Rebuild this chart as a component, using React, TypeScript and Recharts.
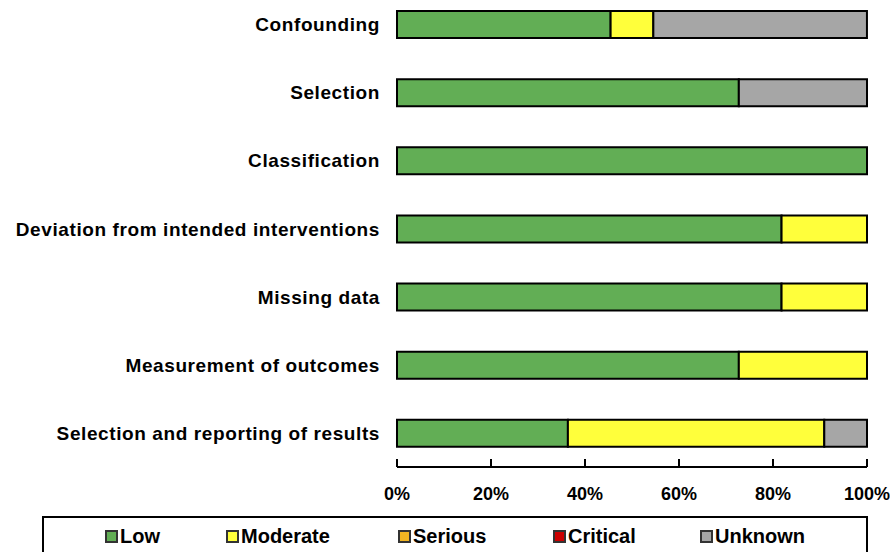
import { BarChart, Bar, XAxis, YAxis, Legend } from "recharts";

const domains = [
  "Confounding",
  "Selection",
  "Classification",
  "Deviation from intended interventions",
  "Missing data",
  "Measurement of outcomes",
  "Selection and reporting of results",
];
const low = [45.45, 72.73, 100, 81.82, 81.82, 72.73, 36.36];
const moderate = [9.09, 0, 0, 18.18, 18.18, 27.27, 54.55];
const serious = [0, 0, 0, 0, 0, 0, 0];
const critical = [0, 0, 0, 0, 0, 0, 0];
const unknown = [45.45, 27.27, 0, 0, 0, 0, 9.09];
const xTicks = [0, 20, 40, 60, 80, 100];

const series = [
  { key: "low", name: "Low", color: "#62ae55" },
  { key: "moderate", name: "Moderate", color: "#ffff3b" },
  { key: "serious", name: "Serious", color: "#f0b422" },
  { key: "critical", name: "Critical", color: "#cc0000" },
  { key: "unknown", name: "Unknown", color: "#a6a6a6" },
];

const data = domains.map((d, i) => ({
  domain: d,
  low: low[i],
  moderate: moderate[i],
  serious: serious[i],
  critical: critical[i],
  unknown: unknown[i],
}));

const font = "'Liberation Sans', Arial, sans-serif";

function XTick({ x, y, payload }: any) {
  return (
    <g>
      <line x1={x} x2={x} y1={y - 8} y2={y} stroke="#000" strokeWidth={2} />
      <text x={x} y={y + 33} textAnchor="middle" fontFamily={font} fontWeight="bold" fontSize={18} fill="#000">
        {payload.value}%
      </text>
    </g>
  );
}

function YTick({ x, y, payload }: any) {
  return (
    <text
      x={x}
      y={y}
      dy={7}
      textAnchor="end"
      fontFamily={font}
      fontWeight="bold"
      fontSize={19}
      letterSpacing={0.6}
      fill="#000"
    >
      {payload.value}
    </text>
  );
}

function LegendBox() {
  return (
    <div
      style={{
        boxSizing: "border-box",
        width: 826,
        height: 44,
        border: "2px solid #000",
        display: "flex",
        paddingLeft: 61,
        paddingTop: 6,
        fontFamily: font,
        fontWeight: "bold",
        fontSize: 20,
        color: "#000",
        background: "#fff",
      }}
    >
      {series.map((s, i) => (
        <div key={s.key} style={{ display: "flex", alignItems: "center", width: [121, 172, 155, 147, 120][i], height: 24 }}>
          <span
            style={{
              display: "inline-block",
              width: 9,
              height: 9,
              background: s.color,
              border: "2px solid #333",
              marginRight: 2,
            }}
          />
          <span>{s.name}</span>
        </div>
      ))}
    </div>
  );
}

export default function App() {
  return (
    <div style={{ position: "absolute", left: 0, top: 0, background: "#fff" }}>
      <BarChart
        width={890}
        height={552}
        data={data}
        layout="vertical"
        margin={{ top: -10, right: 23, bottom: 0, left: 0 }}
        barSize={27}
      >
        <XAxis
          type="number"
          domain={[0, 100]}
          ticks={xTicks}
          tick={<XTick />}
          tickLine={false}
          tickSize={0}
          tickMargin={0}
          axisLine={{ stroke: "#000", strokeWidth: 2 }}
          height={45}
          interval={0}
        />
        <YAxis
          type="category"
          dataKey="domain"
          width={397}
          axisLine={false}
          tickLine={false}
          tickSize={0}
          tickMargin={17}
          tick={<YTick />}
          interval={0}
        />
        <Legend
          verticalAlign="bottom"
          content={() => <LegendBox />}
          wrapperStyle={{ left: 42, top: 516, width: 826, height: 40 }}
        />
        {series.map((s) => (
          <Bar
            key={s.key}
            dataKey={s.key}
            name={s.name}
            stackId="a"
            fill={s.color}
            stroke="#000"
            strokeWidth={2}
            isAnimationActive={false}
          />
        ))}
      </BarChart>
    </div>
  );
}
